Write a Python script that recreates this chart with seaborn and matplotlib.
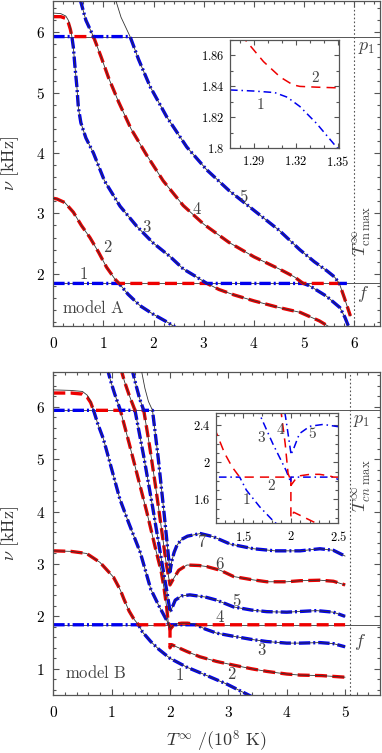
import numpy as np
import matplotlib
matplotlib.use("Agg")
import matplotlib.pyplot as plt
import seaborn as sns
from matplotlib.ticker import MultipleLocator, FuncFormatter

# ---------------- data : model A ----------------
F_A = 1.84
P1_A = 5.93
TMAX_A = 6.0
A_x = [0, 0.07, 0.23, 0.40, 0.56, 0.73, 0.90, 1.06, 1.23, 1.31, 1.49, 1.73, 1.99, 2.29, 2.45]
A_y = [3.25, 3.24, 3.18, 3.02, 2.80, 2.60, 2.36, 2.11, 1.91, 1.84, 1.66, 1.47, 1.33, 1.19, 1.10]
B_x = [0, 0.15, 0.25, 0.30, 0.34, 0.37, 0.40, 0.43, 0.47, 0.50, 0.55, 0.65, 0.80, 1.02, 1.33,
       1.66, 1.99, 2.32, 2.59, 2.85, 3.06, 3.30, 3.60, 4.00, 4.50, 4.92, 5.30, 5.50]
B_y = [6.32, 6.31, 6.27, 6.20, 6.08, 5.93, 5.75, 5.45, 5.10, 4.75, 4.50, 4.25, 4.00, 3.54, 3.12,
       2.79, 2.51, 2.29, 2.08, 1.95, 1.84, 1.74, 1.65, 1.55, 1.44, 1.36, 1.22, 1.12]
Bc_x = [0, 0.15, 0.25, 0.30, 0.34, 0.37]          # coupled mode near the p1 crossing
Bc_y = [6.26, 6.26, 6.23, 6.16, 6.05, 5.93]
C_x = [0.50, 0.65, 0.80, 0.95, 1.10, 1.30, 1.55, 1.85, 2.19, 2.59, 3.00, 3.50, 4.00, 4.50,
       4.80, 4.98, 5.11, 5.44, 5.71, 5.81, 5.92]
C_y = [6.65, 6.20, 5.93, 5.60, 5.25, 4.85, 4.40, 3.98, 3.54, 3.13, 2.82, 2.52, 2.28, 2.08,
       1.95, 1.84, 1.80, 1.63, 1.44, 1.28, 1.05]
D_x = [1.20, 1.35, 1.53, 1.70, 1.93, 2.26, 2.66, 3.06, 3.50, 4.00, 4.50, 4.91, 5.20, 5.45,
       5.60, 5.70, 5.80, 5.92]
D_y = [6.65, 6.25, 5.93, 5.55, 5.10, 4.60, 4.10, 3.72, 3.38, 3.05, 2.72, 2.40, 2.20, 2.05,
       1.95, 1.84, 1.60, 1.30]
curvesA = {"A": (A_x, A_y), "B": (B_x, B_y), "C": (C_x, C_y), "D": (D_x, D_y)}
extraA = {"Bc": (Bc_x, Bc_y)}
modesA = [
    ("blue", [("h", F_A, 0, 1.31), ("c", "A", 1.31, 9)]),
    ("red", [("c", "A", 0, 1.31), ("h", F_A, 1.31, 3.06), ("c", "B", 3.06, 9)]),
    ("blue", [("h", P1_A, 0, 0.37), ("c", "B", 0.37, 3.06), ("h", F_A, 3.06, 4.98), ("c", "C", 4.98, 9)]),
    ("red", [("c", "Bc", 0, 0.37), ("h", P1_A, 0.37, 0.80), ("c", "C", 0.80, 4.98),
             ("h", F_A, 4.98, 5.70), ("c", "D", 5.70, 9)]),
    ("blue", [("c", "C", 0, 0.80), ("h", P1_A, 0.80, 1.53), ("c", "D", 1.53, 5.70), ("h", F_A, 5.70, 5.85)]),
]
labelsA = [("1", 0.60, 1.98), ("2", 1.08, 2.44), ("3", 1.86, 2.77), ("4", 2.86, 3.07), ("5", 3.79, 3.27)]
# inset A (zoom of the avoided crossing)
insA_m1_x = [1.273, 1.290, 1.305, 1.314, 1.323, 1.335, 1.349, 1.352]
insA_m1_y = [1.8377, 1.837, 1.836, 1.833, 1.827, 1.816, 1.801, 1.798]
insA_m2_x = [1.280, 1.284, 1.297, 1.309, 1.318, 1.323, 1.335, 1.352]
insA_m2_y = [1.873, 1.870, 1.856, 1.846, 1.841, 1.840, 1.8395, 1.839]

# ---------------- data : model B ----------------
F_B = 1.84
P1_B = 5.93
TMAX_B = 5.08
Ab_x = [0, 0.30, 0.57, 0.80, 1.03, 1.15, 1.21, 1.30, 1.38, 1.46, 1.53, 1.67, 1.81, 2.00, 2.29, 2.57, 2.97, 3.40]
Ab_y = [3.25, 3.24, 3.20, 3.03, 2.75, 2.50, 2.33, 2.10, 1.95, 1.84, 1.70, 1.52, 1.37, 1.20, 1.03, 0.90, 0.71, 0.47]
Bb_x = [0, 0.30, 0.50, 0.58, 0.64, 0.69, 0.76, 0.86, 1.00, 1.14, 1.29, 1.49, 1.67, 1.81, 1.95, 2.00]
Bb_y = [6.32, 6.31, 6.29, 6.22, 6.10, 5.93, 5.68, 5.38, 4.81, 4.24, 3.79, 3.22, 2.52, 2.20, 1.91, 1.78]
Bbc_x = [0, 0.30, 0.50, 0.58, 0.64, 0.69]
Bbc_y = [6.26, 6.26, 6.24, 6.18, 6.08, 5.93]
Cb_x = [0.92, 0.98, 1.05, 1.15, 1.30, 1.45, 1.60, 1.75, 1.85, 1.90, 1.94, 1.97, 2.00]
Cb_y = [6.75, 6.50, 6.25, 5.93, 5.30, 4.65, 4.00, 3.30, 2.85, 2.52, 2.20, 1.88, 1.80]
Db_x = [1.15, 1.22, 1.30, 1.40, 1.55, 1.70, 1.85, 1.95, 2.00]
Db_y = [6.75, 6.48, 6.22, 5.93, 5.05, 4.10, 3.10, 2.45, 2.10]
Eb_x = [1.34, 1.42, 1.48, 1.55, 1.65, 1.75, 1.85, 1.93, 2.00]
Eb_y = [6.75, 6.40, 6.15, 5.93, 5.25, 4.50, 3.70, 3.05, 2.60]
Fb_x = [1.50, 1.57, 1.63, 1.70, 1.80, 1.90, 2.00]
Fb_y = [6.75, 6.35, 6.10, 5.93, 5.00, 3.95, 2.85]
G2_x = [2.00, 2.03, 2.29, 2.51, 2.80, 3.09, 3.40, 3.66, 4.00, 4.23, 4.60, 5.00]
G2_y = [1.40, 1.46, 1.33, 1.23, 1.14, 1.07, 1.00, 0.95, 0.90, 0.88, 0.87, 0.84]
G3_x = [2.00, 2.05, 2.10, 2.20, 2.30, 2.40, 2.45, 2.60, 2.80, 3.09, 3.40, 3.66, 4.00, 4.23, 4.57, 4.80, 5.00]
G3_y = [1.75, 1.82, 1.855, 1.87, 1.87, 1.855, 1.84, 1.76, 1.68, 1.62, 1.56, 1.52, 1.49, 1.49, 1.50, 1.48, 1.42]
G5_x = [2.00, 2.03, 2.09, 2.20, 2.34, 2.60, 2.80, 3.09, 3.40, 3.66, 4.00, 4.51, 4.80, 5.00]
G5_y = [2.08, 2.15, 2.31, 2.39, 2.41, 2.37, 2.31, 2.18, 2.12, 2.09, 2.08, 2.11, 2.08, 2.00]
G6_x = [2.00, 2.06, 2.15, 2.29, 2.50, 2.63, 2.86, 3.09, 3.40, 3.66, 4.00, 4.23, 4.57, 4.80, 5.00]
G6_y = [2.60, 2.72, 2.88, 2.98, 2.97, 2.95, 2.88, 2.76, 2.70, 2.66, 2.66, 2.68, 2.69, 2.67, 2.60]
G7_x = [2.00, 2.03, 2.07, 2.12, 2.20, 2.30, 2.52, 2.74, 3.03, 3.43, 3.80, 4.23, 4.57, 4.80, 5.00]
G7_y = [2.85, 3.05, 3.22, 3.36, 3.47, 3.53, 3.58, 3.52, 3.38, 3.29, 3.25, 3.25, 3.29, 3.26, 3.15]
curvesB = {"A": (Ab_x, Ab_y), "B": (Bb_x, Bb_y), "C": (Cb_x, Cb_y), "D": (Db_x, Db_y),
           "E": (Eb_x, Eb_y), "F": (Fb_x, Fb_y), "G2": (G2_x, G2_y), "G3": (G3_x, G3_y),
           "G5": (G5_x, G5_y), "G6": (G6_x, G6_y), "G7": (G7_x, G7_y)}
extraB = {"Bc": (Bbc_x, Bbc_y)}
modesB = [
    ("blue", [("h", F_B, 0, 1.46), ("c", "A", 1.46, 9)]),
    ("red", [("c", "A", 0, 1.46), ("h", F_B, 1.46, 2.0), ("c", "G2", 2.0, 5.0)]),
    ("blue", [("h", P1_B, 0, 0.69), ("c", "B", 0.69, 2.0), ("h", F_B, 2.0, 2.45), ("c", "G3", 2.45, 5.0)]),
    ("red", [("c", "Bc", 0, 0.69), ("h", P1_B, 0.69, 1.15), ("c", "C", 1.15, 2.0),
             ("c", "G3", 2.0, 2.45), ("h", F_B, 2.45, 5.0)]),
    ("blue", [("c", "C", 0, 1.15), ("h", P1_B, 1.15, 1.40), ("c", "D", 1.40, 2.0), ("c", "G5", 2.0, 5.0)]),
    ("red", [("c", "D", 0, 1.40), ("h", P1_B, 1.40, 1.55), ("c", "E", 1.55, 2.0), ("c", "G6", 2.0, 5.0)]),
    ("blue", [("c", "E", 0, 1.55), ("h", P1_B, 1.55, 1.70), ("c", "F", 1.70, 2.0), ("c", "G7", 2.0, 5.0)]),
]
labelsB = [("1", 2.17, 0.88), ("2", 3.06, 0.90), ("3", 3.57, 1.35), ("4", 2.86, 1.98),
           ("5", 3.15, 2.28), ("6", 2.86, 2.99), ("7", 2.55, 3.40)]
labelsBins = [("1", 1.53, 1.60), ("2", 1.79, 1.75), ("3", 1.69, 2.27), ("4", 1.89, 2.36), ("5", 2.23, 2.31)]

# ---------------- style ----------------
sns.set_theme(style="ticks")
plt.rcParams.update({
    "mathtext.fontset": "cm",
    "font.family": ["DejaVu Serif"],
    "axes.edgecolor": "#555555",
    "axes.linewidth": 0.9,
})
RED = "#ee0000"
BLUE = "#0000ee"
GRAY = "#555555"
DASH_RED = (3.6, 1.6)
DASH_BLUE = (3.4, 0.9, 0.6, 0.9)


def build(curves, pieces):
    xs, ys = [], []
    for kind, ref, x0, x1 in pieces:
        if kind == "h":
            xs += [x0, x1]
            ys += [ref, ref]
        else:
            cx, cy = curves[ref]
            for a, b in zip(cx, cy):
                if x0 <= a <= x1:
                    xs.append(a)
                    ys.append(b)
    return xs, ys


def line(ax, x, y, color, lw, dashes=None, z=2):
    n0 = len(ax.lines)
    sns.lineplot(x=x, y=y, ax=ax, sort=False, estimator=None, color=color, lw=lw, zorder=z)
    ln = ax.lines[n0]
    if dashes is not None:
        ln.set_dashes(dashes)
        ln.set_dash_capstyle("butt")
    return ln


def bold_fmt(fmt):
    return FuncFormatter(lambda v, p: r"$\mathbf{" + (fmt % v) + "}$")


def style_axes(ax, xmaj, xmin, ymaj, ymin, xfmt, yfmt, size, pad_x, pad_y, L=4.5):
    ax.xaxis.set_major_locator(MultipleLocator(xmaj))
    ax.xaxis.set_minor_locator(MultipleLocator(xmin))
    ax.yaxis.set_major_locator(MultipleLocator(ymaj))
    ax.yaxis.set_minor_locator(MultipleLocator(ymin))
    ax.xaxis.set_major_formatter(bold_fmt(xfmt))
    ax.yaxis.set_major_formatter(bold_fmt(yfmt))
    ax.tick_params(which="both", direction="in", top=True, right=True, width=0.8, colors=GRAY,
                   labelcolor="black")
    ax.tick_params(which="major", length=L)
    ax.tick_params(which="minor", length=L * 0.55)
    ax.tick_params(axis="x", which="major", labelsize=size, pad=pad_x)
    ax.tick_params(axis="y", which="major", labelsize=size, pad=pad_y)


def panel(ax, curves, extra, modes, F, P1, tmax, xlim, ylim, labels, model, mpos, lw=2.4):
    ax.set_xlim(*xlim)
    ax.set_ylim(*ylim)
    ax.axhline(F, color=GRAY, lw=0.7, zorder=1)
    ax.axhline(P1, color=GRAY, lw=0.7, zorder=1)
    ax.axvline(tmax, color=GRAY, lw=0.8, ls=(0, (1.5, 2.0)), zorder=1)
    allc = dict(curves)
    allc.update(extra)
    for color, pieces in modes:
        x, y = build(allc, pieces)
        line(ax, x, y, RED if color == "red" else BLUE, lw,
             DASH_RED if color == "red" else DASH_BLUE, z=2)
    for k, (cx, cy) in curves.items():
        line(ax, cx, cy, "#333333", 0.6, None, z=3)
    for t, x, y in labels:
        ax.text(x, y, "$" + t + "$", fontsize=12, color="#444444", ha="center", va="center")
    ax.text(mpos[0], mpos[1], r"$\mathrm{model\ " + model + "}$", fontsize=12,
            color="#444444", ha="left", va="center")
    ax.set_xlabel("")
    ax.set_ylabel(r"$\nu\ [\mathrm{kHz}]$", fontsize=13, color="#333333")
    ax.yaxis.set_label_coords(-0.10, 0.5)


fig = plt.figure(figsize=(3.82, 7.53), dpi=100)

# ---- top panel
axA = fig.add_axes([0.1395, 0.5667, 0.854, 0.432])
panel(axA, curvesA, extraA, modesA, F_A, P1_A, TMAX_A, (0, 6.5), (1.13, 6.52), labelsA, "A", (0.18, 1.42))
style_axes(axA, 1, 0.2, 1, 0.2, "%d", "%d", 11, 7, 6)
axA.text(6.24, 5.75, r"$p_1$", fontsize=13, color="#444444", ha="center", va="center")
axA.text(6.18, 1.66, r"$f$", fontsize=13, color="#444444", ha="center", va="center")
axA.text(6.15, 2.71, r"$T^{\infty}_{\rm cn\,max}$", fontsize=13, color="#444444",
         ha="center", va="center", rotation=90)

insA = fig.add_axes([0.6021, 0.8031, 0.2853, 0.1438])
insA.set_xlim(1.273, 1.351)
insA.set_ylim(1.80, 1.87)
line(insA, insA_m1_x, insA_m1_y, BLUE, 1.1, (5, 2.5, 1, 2.5))
line(insA, insA_m2_x, insA_m2_y, RED, 1.1, (6, 4))
insA.text(1.334, 1.8455, "$2$", fontsize=11, color="#444444", ha="center", va="center")
insA.text(1.295, 1.8285, "$1$", fontsize=11, color="#444444", ha="center", va="center")
style_axes(insA, 0.03, 0.01, 0.02, 0.01, "%.2f", "%.2f", 9, 5, 4, L=3.5)
insA.yaxis.set_major_formatter(FuncFormatter(
    lambda v, p: r"$\mathbf{1.8}$" if abs(v - 1.8) < 1e-6 else r"$\mathbf{" + ("%.2f" % v) + "}$"))
insA.set_xlabel("")
insA.set_ylabel("")

# ---- bottom panel
axB = fig.add_axes([0.1395, 0.0770, 0.854, 0.4296])
panel(axB, curvesB, extraB, modesB, F_B, P1_B, TMAX_B, (0, 5.59), (0.5, 6.67), labelsB, "B", (0.2, 0.91))
style_axes(axB, 1, 0.2, 1, 0.2, "%d", "%d", 11, 7, 6)
axB.set_xlabel(r"$T^{\infty}\ /(10^8\ \mathrm{K})$", fontsize=13, color="#333333")
axB.xaxis.set_label_coords(0.5, -0.105)
axB.text(5.29, 5.74, r"$p_1$", fontsize=13, color="#444444", ha="center", va="center")
axB.text(5.26, 1.52, r"$f$", fontsize=13, color="#444444", ha="center", va="center")
axB.text(5.29, 4.5, r"$T^{\infty}_{cn\ \max}$", fontsize=13, color="#444444",
         ha="center", va="center", rotation=90)

insB = fig.add_axes([0.5654, 0.3050, 0.3202, 0.1461])
insB.set_xlim(1.21, 2.5)
insB.set_ylim(1.34, 2.53)
allB = dict(curvesB)
allB.update(extraB)
for color, pieces in modesB:
    x, y = build(allB, pieces)
    line(insB, x, y, RED if color == "red" else BLUE, 1.1,
         (6, 4) if color == "red" else (5, 2.5, 1, 2.5))
for t, x, y in labelsBins:
    insB.text(x, y, "$" + t + "$", fontsize=11, color="#444444", ha="center", va="center")
style_axes(insB, 0.5, 0.1, 0.4, 0.1, "%.1f", "%.1f", 9, 5, 4, L=3.5)
fmt_int = FuncFormatter(
    lambda v, p: r"$\mathbf{%d}$" % round(v) if abs(v - round(v)) < 1e-6 else r"$\mathbf{%.1f}$" % v)
insB.xaxis.set_major_formatter(fmt_int)
insB.yaxis.set_major_formatter(fmt_int)
insB.set_xlabel("")
insB.set_ylabel("")

fig.savefig("out.png", dpi=100)
